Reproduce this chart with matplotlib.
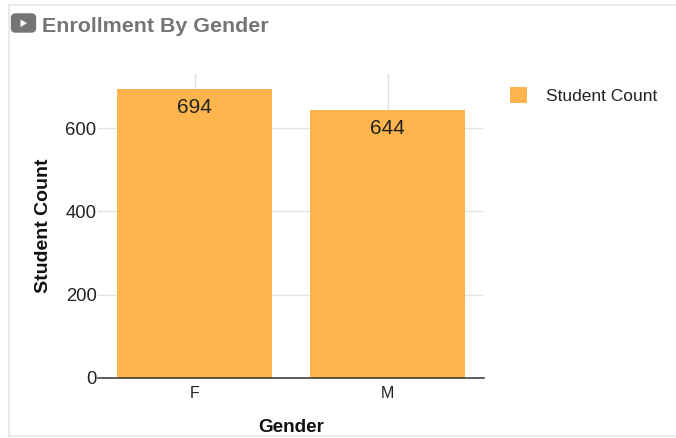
import matplotlib
matplotlib.use("Agg")
import matplotlib.pyplot as plt
from matplotlib.patches import FancyBboxPatch, Polygon
from matplotlib.lines import Line2D

categories = ["F", "M"]
student_count = [694, 644]
y_ticks = [0, 200, 400, 600]
series_name = "Student Count"
title = "Enrollment By Gender"

W, H = 676, 438
plt.rcParams["font.family"] = ["Liberation Sans", "DejaVu Sans"]
fig = plt.figure(figsize=(W / 100, H / 100), dpi=100, facecolor="white")
ax = fig.add_axes([98 / W, 1 - 378 / H, 386 / W, 304 / H])

BAR = "#FFB54D"
ax.bar(categories, student_count, width=0.8, color=BAR, zorder=3, label=series_name)
ax.set_xlim(-0.5, 1.5)
ax.set_ylim(0, 730)
ax.set_yticks(y_ticks)
ax.grid(True, color="#E4E4E4", lw=1, zorder=0)
for s in ("top", "left", "right"):
    ax.spines[s].set_visible(False)
ax.spines["bottom"].set_color("#333333")
ax.spines["bottom"].set_linewidth(1.1)
ax.spines["bottom"].set_zorder(4)
ax.tick_params(axis="both", length=0)
ax.tick_params(axis="y", labelsize=13.3, labelcolor="#222222", pad=1)
ax.tick_params(axis="x", labelsize=11.5, labelcolor="#222222", pad=6)

for i, v in enumerate(student_count):
    ax.annotate(str(v), (i, v), xytext=(0, -6.5), textcoords="offset points",
                ha="center", va="top", fontsize=15, color="#222222", zorder=5)

ax.set_xlabel("Gender", fontsize=13.6, fontweight="bold", color="#111111")
ax.xaxis.set_label_coords((291 - 98) / 386, -0.135)
ax.set_ylabel("Student Count", fontsize=14, fontweight="bold", color="#111111")
ax.yaxis.set_label_coords((51.5 - 98) / 386, 0.5)

ax.legend(loc="upper left", bbox_to_anchor=(510 / W, 1 - 87 / H), bbox_transform=fig.transFigure,
          frameon=False, fontsize=12.5, handlelength=1.0, handleheight=1.0,
          handletextpad=1.1, borderpad=0, borderaxespad=0, labelcolor="#222222")

# panel frame
for xs, ys in [((9, W), (5, 5)), ((9, 9), (5, 436)), ((9, W), (436, 436))]:
    fig.add_artist(Line2D([x / W for x in xs], [1 - y / H for y in ys], color="#E4E4E4", lw=1.1))

# title and icon
fig.text(42 / W, 1 - 26.5 / H, title, fontsize=15.4, fontweight="bold", color="#757575", va="center", ha="left")
fig.add_artist(FancyBboxPatch((11.5 / W, 1 - 32 / H), 24 / W, 18 / H, transform=fig.transFigure,
                              boxstyle="round,pad=0,rounding_size=0.006", mutation_aspect=W / H,
                              fc="#757575", ec="#757575", lw=1))
fig.add_artist(Polygon([(20.5 / W, 1 - 19.5 / H), (20.5 / W, 1 - 27 / H), (27 / W, 1 - 23.2 / H)],
                       transform=fig.transFigure, fc="white", ec="none"))

fig.savefig("out.png", dpi=100, facecolor="white")
